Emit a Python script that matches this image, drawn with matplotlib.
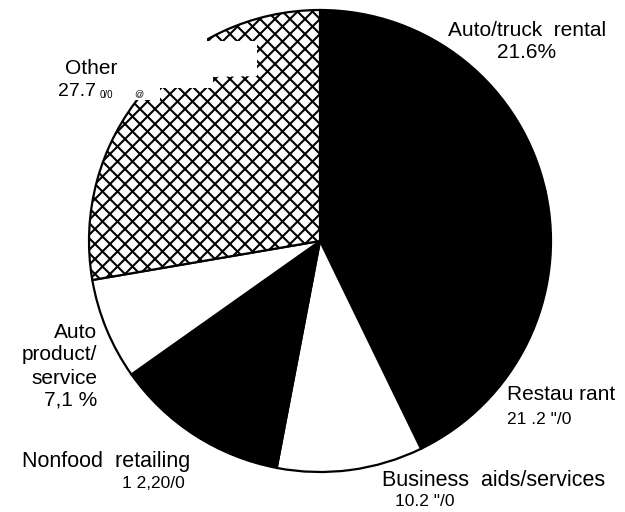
import matplotlib
matplotlib.use("Agg")
import matplotlib.pyplot as plt
from matplotlib.patches import Polygon
import numpy as np

plt.rcParams['font.family'] = ['Liberation Sans', 'DejaVu Sans']

categories = ['Auto/truck rental', 'Restaurant', 'Business aids/services',
              'Nonfood retailing', 'Auto product/service', 'Other']
shares = [21.6, 21.2, 10.2, 12.2, 7.1, 27.7]
fills = ['black', 'black', 'white', 'black', 'white', 'white']
hatched = [False, False, False, False, False, True]

W, H = 625, 512
fig = plt.figure(figsize=(W / 100, H / 100), dpi=100)
ax = fig.add_axes([0, 0, 1, 1])

wedges, _ = ax.pie(shares, colors=fills, startangle=90, counterclock=False,
                   wedgeprops=dict(edgecolor='black', linewidth=1.6))

# pie centre at (320, 241) px, radius 231 px
r = 231.0
ax.set_aspect('auto')
ax.set_xlim(-320 / r, (W - 320) / r)
ax.set_ylim(-(H - 241) / r, 241 / r)
ax.axis('off')

# cross-hatching, coarser than matplotlib's 'xx'
step = 15.0 / r
for w, h in zip(wedges, hatched):
    if not h:
        continue
    for c in np.arange(-3, 3, step):
        for sgn in (1, -1):
            ln, = ax.plot([-2, 2], [sgn * -2 + c, sgn * 2 + c], color='black',
                          lw=1.5, solid_capstyle='butt', zorder=w.get_zorder() + 0.1)
            ln.set_clip_path(w)

# blanked-out corner of the scanned original
blank = [(0, 0), (207, 0), (207, 41), (257, 41), (257, 76), (213, 77),
         (213, 88), (160, 88), (160, 100), (0, 100)]
blank = [(x / W, 1 - y / H) for x, y in blank]
ax.add_patch(Polygon(blank, closed=True, facecolor='white', edgecolor='none',
                     transform=fig.transFigure, zorder=10))


def label(x, y, s, ha='left', size=15):
    fig.text(x / W, 1 - y / H, s, ha=ha, va='center', fontsize=size, color='black')


label(527, 30, 'Auto/truck  rental', ha='center')
label(527, 53, '21.6%', ha='center')
label(507, 395, 'Restau rant')
label(507, 420, '21 .2 "/0', size=12.5)
label(382, 480, 'Business  aids/services', size=15.5)
label(395, 502, '10.2 "/0', size=12.5)
label(97, 332, 'Auto', ha='right')
label(97, 355, 'product/', ha='right')
label(97, 378, 'service', ha='right')
label(97, 400, '7,1 %', ha='right')
label(22, 462, 'Nonfood  retailing', size=15.5)
label(122, 483, '1 2,20/0', size=12.5)
label(65, 68, 'Other')
label(58, 92, '27.7', size=14)
label(100, 95, '0/0', size=7)
label(134, 94, '@', size=6.5)

fig.savefig('out.png', dpi=100)
